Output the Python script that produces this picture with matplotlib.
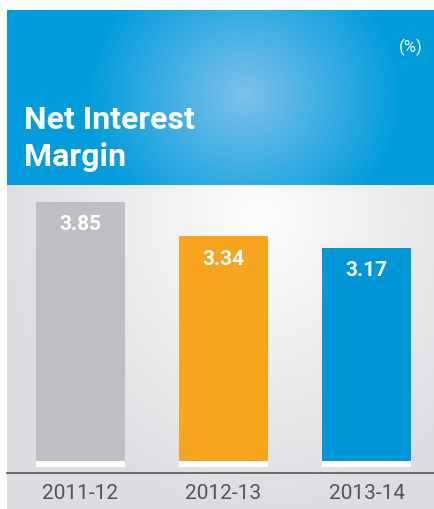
import numpy as np
import matplotlib.pyplot as plt

# Data
years = ['2011-12', '2012-13', '2013-14']
nim = [3.85, 3.34, 3.17]
colors = ['#bebfc3', '#f7a51e', '#0097d9']

W, H = 434, 509
fig = plt.figure(figsize=(W / 100, H / 100), dpi=100)
fig.patch.set_facecolor('white')

def fx(px):
    return px / W

def fy(py):
    return 1 - py / H

# header with radial gradient
hdr = fig.add_axes([fx(7), fy(185), fx(434) - fx(7), fy(10) - fy(185)])
hdr.set_axis_off()
xx, yy = np.meshgrid(np.linspace(7, 434, 300), np.linspace(10, 185, 150))
d = np.sqrt(((xx - 245) / 160) ** 2 + ((yy - 95) / 150) ** 2)
t = np.clip(d, 0, 1)[..., None]
c_in = np.array([0x7c, 0xc0, 0xea]) / 255
c_out = np.array([0x00, 0x9c, 0xdc]) / 255
hdr.imshow(c_in * (1 - t) + c_out * t, extent=[0, 1, 0, 1], aspect='auto', origin='upper')

fig.text(fx(24), fy(129), 'Net Interest', color='white', fontsize=23,
         fontweight='bold', family='Roboto', va='baseline', ha='left')
fig.text(fx(24), fy(166), 'Margin', color='white', fontsize=23,
         fontweight='bold', family='Roboto', va='baseline', ha='left')
fig.text(fx(423), fy(47), '(%)', color='white', fontsize=12, family='Roboto',
         ha='right', va='center')

# gray background with soft radial gradient
bg = fig.add_axes([fx(7), 0, fx(434) - fx(7), fy(185)])
bg.set_axis_off()
xx, yy = np.meshgrid(np.linspace(7, 434, 300), np.linspace(185, 509, 200))
d = np.sqrt(((xx - 260) / 260) ** 2 + ((yy - 215) / 300) ** 2)
t = np.clip(d, 0, 1)[..., None]
g_in = np.array([0xfd, 0xfd, 0xfd]) / 255
g_out = np.array([0xdc, 0xdd, 0xe0]) / 255
bg.imshow(g_in * (1 - t) + g_out * t, extent=[0, 1, 0, 1], aspect='auto', origin='upper')

# bar chart
ax = fig.add_axes([fx(7), fy(473), fx(434) - fx(7), fy(185) - fy(473)])
ax.patch.set_alpha(0)
x = np.arange(len(years))
bw = 0.622
ax.bar(x, nim, width=bw, color=colors, zorder=2)
ax.bar(x, [0.09] * len(x), bottom=-0.09, width=bw, color='white', zorder=2)
for xi, v in zip(x, nim):
    ax.text(xi, v - 0.34, f'{v:.2f}', color='white', fontsize=15, fontweight='bold',
            family='Roboto', ha='center', va='center', zorder=3)
ax.set_xlim(-0.514, 2.472)
ax.set_ylim(-0.178, 4.10)
ax.set_yticks([])
ax.set_xticks(x)
ax.set_xticklabels(years, fontsize=15, color='#555555', family='Roboto')
ax.tick_params(axis='x', length=0, pad=8)
for s in ['top', 'right', 'left']:
    ax.spines[s].set_visible(False)
ax.spines['bottom'].set_color('#555555')
ax.spines['bottom'].set_linewidth(1.2)

fig.savefig('out.png', dpi=100)
